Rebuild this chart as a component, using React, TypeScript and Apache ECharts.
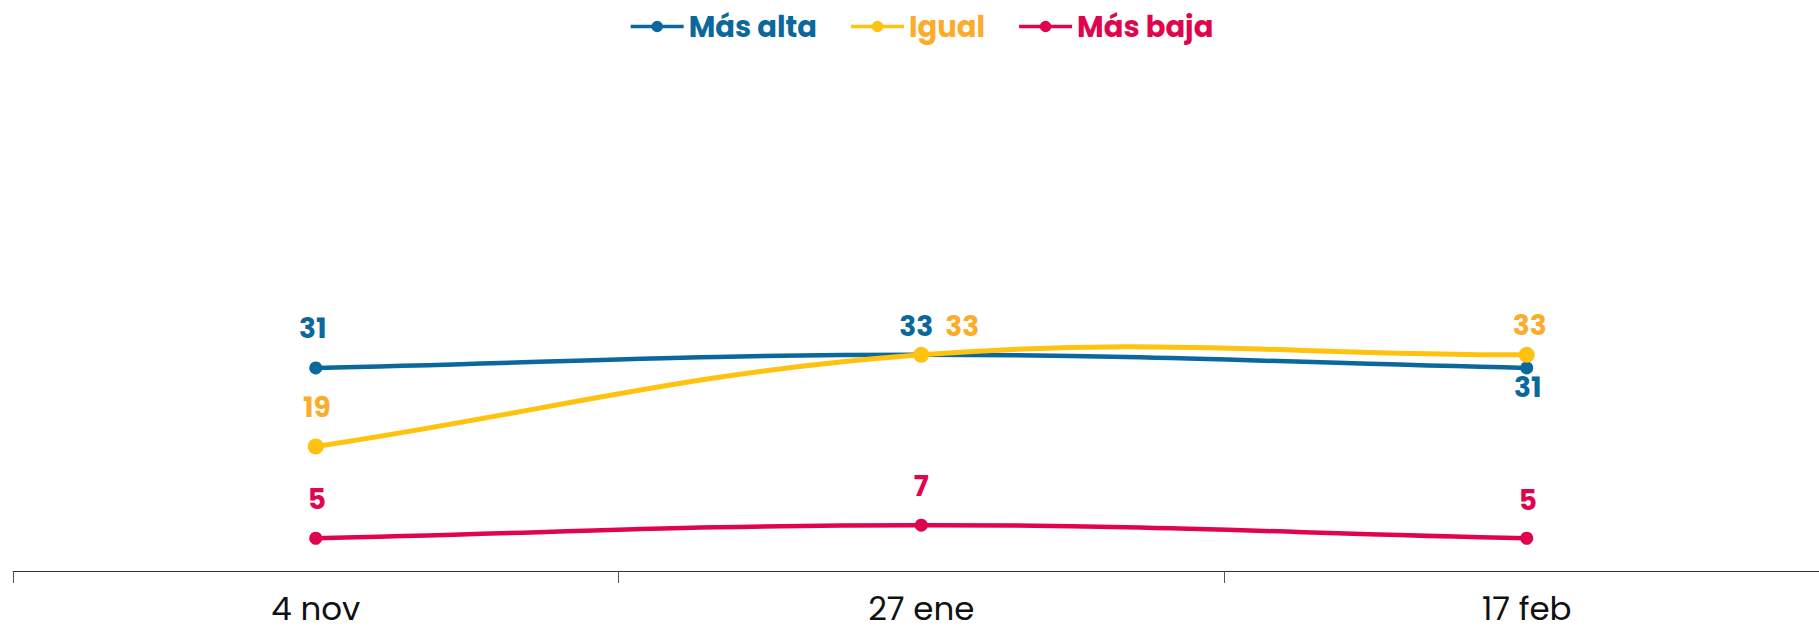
import React, { useEffect, useRef } from "react";
import * as echarts from "echarts";

const categories = ["4 nov", "27 ene", "17 feb"];
const seriesNames = ["Más alta", "Igual", "Más baja"];
const masAlta = [31, 33, 31];
const igual = [19, 33, 33];
const masBaja = [5, 7, 5];

const lineColors = ["#0B689C", "#FFC20E", "#E0044F"];
const textColors = ["#0B689C", "#FBAC2A", "#E0044F"];
const symbolSizes = [13, 16, 13];
const lineWidths = [4.5, 5, 4.5];

// per-point label offsets (style only), label centred on the point then shifted
const labelOffsets = [
  [[-3, -39], [-5, -28.5], [1, 19.5]],
  [[1, -39.5], [41, -28.5], [3, -29]],
  [[1, -38.5], [0, -39], [1, -38]],
];

const FONT = "Poppins, Inter, 'Noto Sans', sans-serif";
const LEGEND_ICON =
  "path://M0,4.75 L53,4.75 L53,8.25 L0,8.25 Z M20.75,6.5 A5.75,5.75 0 1,1 32.25,6.5 A5.75,5.75 0 1,1 20.75,6.5 Z";

// Cardinal-style spline control points (tension 0.4) in pixel space
function splineControls(pts: number[][], t = 0.4) {
  const n = pts.length;
  return pts.map((p, i) => {
    const prev = pts[Math.max(0, i - 1)];
    const next = pts[Math.min(n - 1, i + 1)];
    const d01 = Math.hypot(p[0] - prev[0], p[1] - prev[1]);
    const d12 = Math.hypot(next[0] - p[0], next[1] - p[1]);
    let s01 = d01 / (d01 + d12);
    let s12 = d12 / (d01 + d12);
    if (!isFinite(s01)) s01 = 0;
    if (!isFinite(s12)) s12 = 0;
    const fa = t * s01;
    const fb = t * s12;
    return {
      prev: [p[0] - fa * (next[0] - prev[0]), p[1] - fa * (next[1] - prev[1])],
      next: [p[0] + fb * (next[0] - prev[0]), p[1] + fb * (next[1] - prev[1])],
    };
  });
}

export default function App() {
  const ref = useRef<HTMLDivElement>(null);

  useEffect(() => {
    if (!ref.current) return;
    const chart = echarts.init(ref.current, undefined, { renderer: "svg" });
    const allData = [masAlta, igual, masBaja];

    const curveSeries = allData.map((vals, si) => ({
      name: seriesNames[si],
      type: "custom",
      z: 2,
      silent: true,
      encode: { x: 0, y: 1 },
      data: vals.map((v, i) => [i, v]),
      renderItem: (params: any, api: any) => {
        const i = params.dataIndex;
        if (i >= vals.length - 1) return { type: "group", children: [] };
        const pts = vals.map((v, k) => api.coord([k, v]));
        const cps = splineControls(pts);
        return {
          type: "bezierCurve",
          shape: {
            x1: pts[i][0],
            y1: pts[i][1],
            cpx1: cps[i].next[0],
            cpy1: cps[i].next[1],
            cpx2: cps[i + 1].prev[0],
            cpy2: cps[i + 1].prev[1],
            x2: pts[i + 1][0],
            y2: pts[i + 1][1],
          },
          style: {
            stroke: lineColors[si],
            lineWidth: lineWidths[si],
            fill: "none",
            lineCap: "round",
          },
        };
      },
    }));

    const pointSeries = allData.map((vals, si) => ({
      name: seriesNames[si],
      type: "line",
      z: 3,
      symbol: "circle",
      symbolSize: symbolSizes[si],
      showSymbol: true,
      lineStyle: { opacity: 0, width: 0 },
      itemStyle: { color: lineColors[si] },
      label: {
        show: true,
        position: "inside",
        color: textColors[si],
        fontFamily: FONT,
        fontWeight: "bold",
        fontSize: 28,
      },
      data: vals.map((v, i) => ({
        value: v,
        label: { offset: labelOffsets[si][i] },
      })),
    }));

    chart.setOption({
      animation: false,
      legend: {
        top: 7,
        left: "center",
        itemWidth: 53,
        itemHeight: 13,
        itemGap: 34,
        textStyle: { fontFamily: FONT, fontWeight: "bold", fontSize: 29 },
        data: seriesNames.map((n, i) => ({
          name: n,
          icon: LEGEND_ICON,
          itemStyle: { color: lineColors[i] },
          textStyle: { color: textColors[i] },
        })),
      },
      grid: { left: 13, right: 14.5, top: 178, bottom: 55, containLabel: false },
      xAxis: {
        type: "category",
        data: categories,
        boundaryGap: true,
        axisLine: { show: true, lineStyle: { color: "#333", width: 1 } },
        axisTick: { show: true, length: 12, lineStyle: { color: "#555" } },
        axisLabel: {
          color: "#111",
          fontFamily: FONT,
          fontSize: 32.5,
          lineHeight: 28,
          margin: 23,
        },
      },
      yAxis: {
        type: "value",
        min: 0,
        max: 60,
        show: false,
        splitLine: { show: false },
      },
      series: [...curveSeries, ...pointSeries],
    });
    return () => chart.dispose();
  }, []);

  return (
    <div style={{ width: 1819, height: 626, overflow: "hidden", position: "relative" }}>
      <style>{"html,body{margin:0;padding:0;overflow:hidden;}"}</style>
      <div ref={ref} style={{ position: "absolute", left: 0, top: 0, width: 1844, height: 626 }} />
    </div>
  );
}
